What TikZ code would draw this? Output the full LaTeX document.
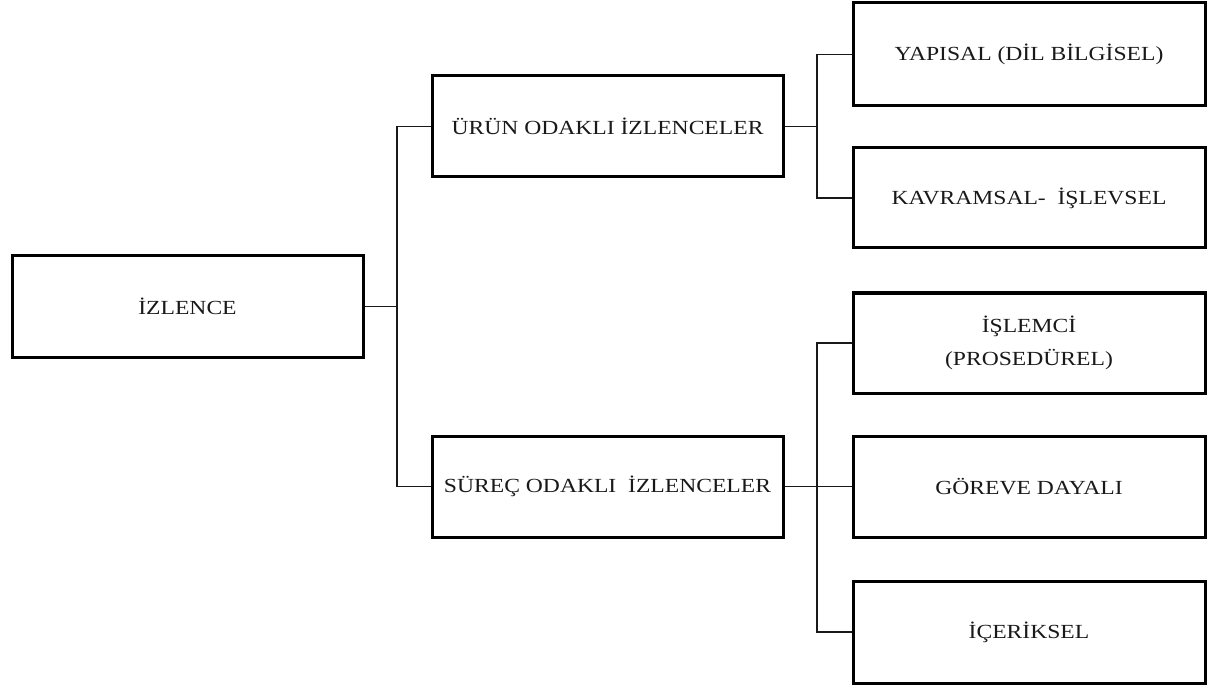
\documentclass[tikz,border=0pt]{standalone}
\usepackage{graphicx}
\usepackage{fontspec}
\setmainfont{Liberation Serif}
\newcommand\wtext[1]{\scalebox{1.18}[1]{#1}}
\begin{document}
\begin{tikzpicture}[x=1pt,y=-1pt,
  box/.style={draw=black, line width=3pt, inner sep=0pt, minimum width=351pt, minimum height=101pt,
    font=\fontsize{20}{33}\selectfont, text=black!90, align=center},
  rbox/.style={box, minimum width=352pt},
  conn/.style={draw=black!90, line width=1.9pt}]
\useasboundingbox (0,0) rectangle (1208,687);
\node[box] (izl) at (187.5,306.5) {\wtext{İZLENCE}};
\node[box] (urun) at (607.5,126.5) {\wtext{ÜRÜN ODAKLI İZLENCELER}};
\node[box] (surec) at (607.5,486.5) {\wtext{SÜREÇ ODAKLI~ İZLENCELER}};
\node[rbox, minimum height=103pt] (yap) at (1029,54.5) {\wtext{YAPISAL (DİL BİLGİSEL)}};
\node[rbox, minimum height=100pt] (kav) at (1029,198) {\wtext{KAVRAMSAL-~ İŞLEVSEL}};
\node[rbox, minimum height=100pt] (isl) at (1029,343) {\wtext{İŞLEMCİ}\\\wtext{(PROSEDÜREL)}};
\node[rbox, minimum height=101pt] (gor) at (1029,486.5) {\wtext{GÖREVE DAYALI}};
\node[rbox, minimum height=102pt] (ice) at (1029,632) {\wtext{İÇERİKSEL}};
\coordinate (ja) at (397,306.5);
\coordinate (jb) at (817,126.5);
\coordinate (jc) at (817,486.5);
\draw[conn] (izl.east) -- (ja);
\draw[conn] (urun.west) -| (ja) |- (surec.west);
\draw[conn] (urun.east) -- (jb);
\draw[conn] (yap.west) -| (jb) |- (kav.west);
\draw[conn] (surec.east) -- (gor.west);
\draw[conn] (isl.west) -| (jc) |- (ice.west);
\end{tikzpicture}
\end{document}
